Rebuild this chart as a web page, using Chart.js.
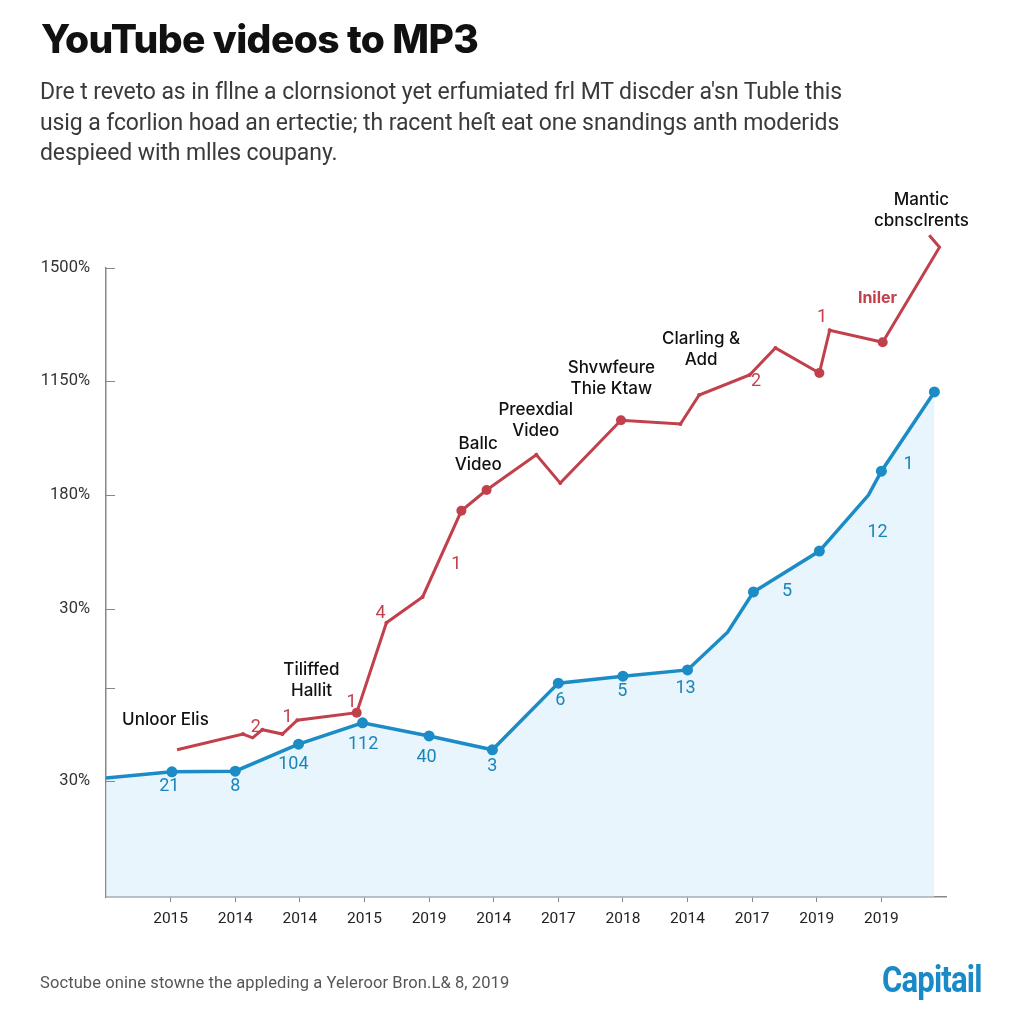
<!DOCTYPE html>
<html>
<head>
<meta charset="utf-8">
<script src="https://cdn.jsdelivr.net/npm/chart.js@4.4.1/dist/chart.umd.min.js"></script>
<style>
  html, body { margin: 0; padding: 0; background: #fff; }
  #wrap { position: relative; width: 1024px; height: 1024px; overflow: hidden; }
  #chart { position: absolute; left: 0; top: 0; }
  .title { position: absolute; left: 41px; top: 15px; font: 800 39px "Inter", sans-serif; color: #111; letter-spacing: -0.6px; }
  .sub { position: absolute; left: 40px; top: 77px; font: 400 23px "Roboto", sans-serif; line-height: 30.5px; color: #3a3a3a; letter-spacing: -0.1px; }
  .foot { position: absolute; left: 40px; top: 973px; font: 400 16.5px "Roboto", sans-serif; color: #555; letter-spacing: 0.1px; }
  .brand { position: absolute; left: 882px; top: 958px; font: 700 37px "Roboto", sans-serif; color: #1a8ac6; letter-spacing: -1px; transform: scaleX(0.84); transform-origin: left top; }
</style>
</head>
<body>
<div id="wrap">
  <canvas id="chart" width="1024" height="1024"></canvas>
  <div class="title">YouTube videos to MP3</div>
  <div class="sub">Dre t reveto as in fllne a clornsionot yet erfumiated frl MT discder a'sn Tuble this<br>usig a fcorlion hoad an ertectie; th racent heſt eat one snandings anth moderids<br>despieed with mlles coupany.</div>
  <div class="foot">Soctube onine stowne the appleding a Yeleroor Bron.L&amp; 8, 2019</div>
  <div class="brand">Capitail</div>
</div>
<script>
"use strict";

const xLabels = ["2015", "2014", "2014", "2015", "2019", "2014", "2017", "2018", "2014", "2017", "2019", "2019"];
const yTickVals = [18.4, 33.2, 45.8, 63.9, 82.0, 100];
const yTickLabels = ["30%", "", "30%", "180%", "1150%", "1500%"];

// blue series (x in category units, y in axis units)
const blueX = [0, 1.02, 2.0, 2.98, 3.97, 5.0, 5.98, 7.0, 8.0, 9.0, 9.62, 10.02, 11.04, 11.8, 12.0, 12.82];
const blueY = [18.9, 19.9, 20.0, 24.3, 27.7, 25.6, 23.4, 34.0, 35.1, 36.1, 42.1, 48.5, 55.0, 63.9, 67.7, 80.3];

// red series
const redX = [1.1, 2.12, 2.27, 2.42, 2.73, 2.96, 3.88, 4.34, 4.9, 5.5, 5.89, 6.66, 7.03, 7.97, 8.89, 9.18, 9.96, 10.36, 11.04, 11.2, 12.02, 12.9, 12.74];
const redY = [23.4, 25.9, 25.3, 26.6, 25.9, 28.1, 29.3, 43.6, 47.7, 61.4, 64.7, 70.3, 65.8, 75.8, 75.2, 79.8, 83.0, 87.3, 83.3, 90.1, 88.2, 103.3, 105.2];

// point tags
const blueTagText = ["21", "8", "104", "112", "40", "3", "6", "5", "13", "5", "12", "1"];
const blueTagX = [0.98, 2.0, 2.9, 3.98, 4.96, 5.98, 7.03, 7.99, 8.97, 10.54, 11.94, 12.42];
const blueTagY = [17.5, 17.5, 21.0, 24.3, 22.1, 20.7, 31.3, 32.6, 33.2, 48.5, 57.9, 68.8];

const redTagText = ["2", "1", "1", "4", "1", "2", "1"];
const redTagX = [2.32, 2.81, 3.8, 4.25, 5.42, 10.06, 11.08];
const redTagY = [26.9, 28.5, 31.0, 45.0, 52.8, 81.9, 92.2];

// black notes
const noteText = [["Unloor Elis"], ["Tiliffed", "Hallit"], ["Ballc", "Video"], ["Preexdial", "Video"], ["Shvwfeure", "Thie Ktaw"], ["Clarling &", "Add"], ["Mantic", "cbnsclrents"]];
const noteX = [0.92, 3.18, 5.76, 6.65, 7.82, 9.21, 12.62];
const noteY = [28.1, 34.5, 70.3, 75.8, 82.5, 87.0, 109.2];

const RED = "#c1404b";
const BLUE = "#1b8cc5";

function toPoints(xs, ys) {
  return xs.map((x, i) => ({ x: x, y: ys[i] }));
}

const tagPlugin = {
  id: "tags",
  afterDatasetsDraw(chart) {
    const ctx = chart.ctx;
    const xs = chart.scales.x;
    const ys = chart.scales.y;
    ctx.save();
    ctx.textAlign = "center";
    ctx.textBaseline = "middle";

    // inward y ticks
    ctx.strokeStyle = "#888";
    ctx.lineWidth = 1;
    yTickVals.forEach(v => {
      const py = Math.round(ys.getPixelForValue(v)) + 0.5;
      ctx.beginPath();
      ctx.moveTo(chart.chartArea.left, py);
      ctx.lineTo(chart.chartArea.left + 9, py);
      ctx.stroke();
    });

    ctx.font = "400 18px Roboto, sans-serif";
    ctx.fillStyle = "#1a85bd";
    blueTagText.forEach((t, i) => {
      ctx.fillText(t, xs.getPixelForValue(blueTagX[i]), ys.getPixelForValue(blueTagY[i]));
    });

    ctx.fillStyle = RED;
    redTagText.forEach((t, i) => {
      ctx.fillText(t, xs.getPixelForValue(redTagX[i]), ys.getPixelForValue(redTagY[i]));
    });
    ctx.font = "700 16px Inter, sans-serif";
    ctx.fillText("Iniler", xs.getPixelForValue(11.94), ys.getPixelForValue(95.2));

    ctx.font = "500 17px Inter, sans-serif";
    ctx.fillStyle = "#111";
    noteText.forEach((lines, i) => {
      const cx = xs.getPixelForValue(noteX[i]);
      const cy = ys.getPixelForValue(noteY[i]);
      const lh = 21;
      const top = cy - (lines.length - 1) * lh / 2;
      lines.forEach((ln, j) => ctx.fillText(ln, cx, top + j * lh));
    });
    ctx.restore();
  }
};

function renderChart() {
  const canvasElem = document.getElementById("chart");

  const chartObj = {
    type: "line",
    data: {
      datasets: [
        {
          label: "red",
          data: toPoints(redX, redY),
          borderColor: RED,
          backgroundColor: RED,
          borderWidth: 3,
          fill: false,
          tension: 0,
          clip: false,
          pointRadius: [0, 2, 0, 2, 2, 2, 5, 2, 2, 5, 5, 2, 2, 5, 2, 2, 2, 2, 5, 2, 5, 0, 0],
          pointBorderWidth: 0
        },
        {
          label: "blue",
          data: toPoints(blueX, blueY),
          borderColor: BLUE,
          backgroundColor: "rgba(214, 236, 249, 0.55)",
          pointBackgroundColor: BLUE,
          borderWidth: 3.5,
          fill: "origin",
          tension: 0,
          pointRadius: [0, 5.5, 5.5, 5.5, 5.5, 5.5, 5.5, 5.5, 5.5, 5.5, 0, 5.5, 5.5, 0, 5.5, 5.5],
          pointBorderWidth: 0
        }
      ]
    },
    options: {
      responsive: false,
      animation: false,
      layout: { padding: { top: 268, right: 78, left: 0, bottom: 0 } },
      plugins: {
        legend: { display: false },
        tooltip: { enabled: false }
      },
      scales: {
        x: {
          type: "linear",
          min: 0,
          max: 13,
          afterBuildTicks: scale => {
            scale.ticks = xLabels.map((l, i) => ({ value: i + 1 }));
          },
          afterFit: scale => { scale.height = 127; },
          ticks: {
            callback: (v, i) => xLabels[i],
            color: "#222",
            font: { family: "Roboto", size: 15.5 },
            padding: 8,
            maxRotation: 0,
            autoSkip: false
          },
          grid: { drawOnChartArea: false, drawTicks: true, tickLength: 5, color: "#888" },
          border: { display: true, color: "#888", width: 1.5 }
        },
        y: {
          type: "linear",
          min: 0,
          max: 100,
          afterBuildTicks: scale => {
            scale.ticks = yTickVals.map(v => ({ value: v }));
          },
          afterFit: scale => { scale.width = 106; },
          ticks: {
            callback: (v, i) => yTickLabels[i],
            color: "#333",
            font: { family: "Roboto", size: 16.5 },
            padding: 16,
            autoSkip: false
          },
          grid: { drawOnChartArea: false, drawTicks: false },
          border: { display: true, color: "#888", width: 1.5 }
        }
      }
    },
    plugins: [tagPlugin]
  };
  new Chart(canvasElem, chartObj);
}

renderChart();
</script>
</body>
</html>
